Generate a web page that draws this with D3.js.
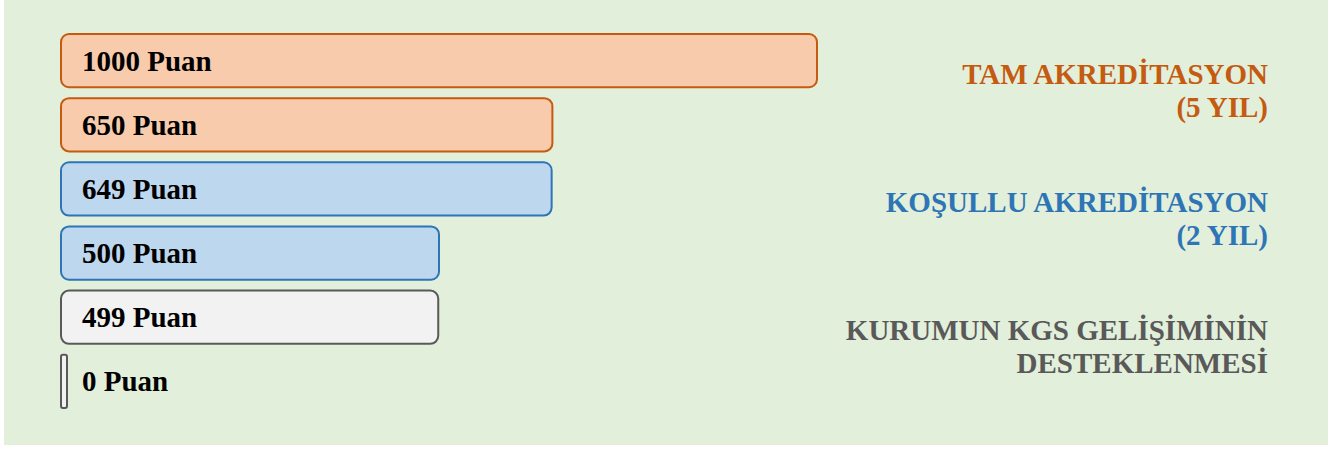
<!DOCTYPE html>
<html lang="tr">
<head>
<meta charset="UTF-8">
<title>Akreditasyon Puanları</title>
<style>
  body { margin: 0; background: #ffffff; }
  svg { display: block; }
</style>
</head>
<body>
<div id="chart"></div>
<script src="https://cdn.jsdelivr.net/npm/d3@7"></script>
<script>
// bar values and labels, top to bottom
var scores = [1000, 650, 649, 500, 499, 0];
var scoreLabels = ['1000 Puan', '650 Puan', '649 Puan', '500 Puan', '499 Puan', '0 Puan'];
// which decision each bar belongs to
var barGroups = ['tam', 'tam', 'kosullu', 'kosullu', 'kgs', 'kgs'];

// decision captions on the right (two lines each)
var groupKeys = ['tam', 'kosullu', 'kgs'];
var groupLines = [
  ['TAM AKREDİTASYON', '(5 YIL)'],
  ['KOŞULLU AKREDİTASYON', '(2 YIL)'],
  ['KURUMUN KGS GELİŞİMİNİN', 'DESTEKLENMESİ']
];

var width = 1339, height = 450;
var serif = '"Liberation Serif", "Times New Roman", Times, serif';

var fillColor = d3.scaleOrdinal().domain(groupKeys).range(['#f8cbad', '#bdd7ee', '#f2f2f2']);
var strokeColor = d3.scaleOrdinal().domain(groupKeys).range(['#c55a11', '#2e75b6', '#595959']);

var svg = d3.select('#chart').append('svg')
  .attr('width', width)
  .attr('height', height);

// panel background
svg.append('rect')
  .attr('x', 4).attr('y', 0)
  .attr('width', 1324).attr('height', 445)
  .attr('fill', '#e2efda');

var x = d3.scaleLinear().domain([0, 1000]).range([61, 817]);
var y = d3.scaleBand()
  .domain(d3.range(scores.length))
  .range([34, 408])
  .paddingInner(0.17)
  .paddingOuter(0);

var bars = svg.append('g').selectAll('g')
  .data(scores)
  .join('g');

bars.append('rect')
  .attr('x', x(0))
  .attr('y', function (d, i) { return y(i); })
  .attr('width', function (d) { return Math.max(x(d) - x(0), 6); })
  .attr('height', y.bandwidth())
  .attr('rx', function (d) { return d > 0 ? 8 : 2; })
  .attr('fill', function (d, i) { return fillColor(barGroups[i]); })
  .attr('stroke', function (d, i) { return strokeColor(barGroups[i]); })
  .attr('stroke-width', 2);

bars.append('text')
  .attr('x', 82)
  .attr('y', function (d, i) { return y(i) + y.bandwidth() / 2 + 10; })
  .attr('font-family', serif)
  .attr('font-weight', 'bold')
  .attr('font-size', 29)
  .attr('fill', '#000000')
  .text(function (d, i) { return scoreLabels[i]; });

// captions centred against their pair of bars
var captions = svg.append('g').selectAll('text')
  .data(groupKeys)
  .join('text')
  .attr('text-anchor', 'end')
  .attr('font-family', serif)
  .attr('font-weight', 'bold')
  .attr('font-size', 29)
  .attr('fill', function (d) { return strokeColor(d); })
  .attr('y', function (d, k) {
    var first = barGroups.indexOf(d);
    var mid = (y(first) + y(first + 1) + y.bandwidth()) / 2;
    return mid - 9;
  });

captions.selectAll('tspan')
  .data(function (d, k) { return groupLines[k]; })
  .join('tspan')
  .attr('x', 1268)
  .attr('dy', function (d, j) { return j === 0 ? 0 : 33; })
  .text(function (d) { return d; });
</script>
</body>
</html>
